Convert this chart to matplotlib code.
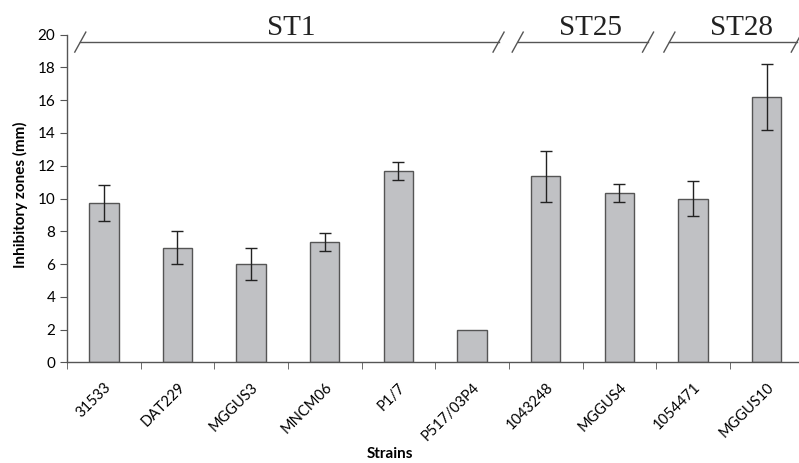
import matplotlib
matplotlib.use("Agg")
from matplotlib import pyplot as plt
import numpy as np

strains = ["31533", "DAT229", "MGGUS3", "MNCM06", "P1/7",
           "P517/03P4", "1043248", "MGGUS4", "1054471", "MGGUS10"]
zones = [9.7, 7.0, 6.0, 7.35, 11.7, 2.0, 11.35, 10.35, 10.0, 16.2]
errors = [1.1, 1.0, 1.0, 0.55, 0.55, 0.0, 1.55, 0.55, 1.05, 2.0]

groups = ["ST1", "ST25", "ST28"]
group_spans = [(-0.32, 5.36), (5.62, 7.39), (7.68, 9.41)]
group_label_x = [2.54, 6.61, 8.66]

plt.rcParams['font.family'] = ['Lato', 'DejaVu Sans']

fig = plt.figure(figsize=(7.99, 4.63), dpi=100)
ax = fig.add_axes([0.0839, 0.2175, 0.9161, 0.7075])

x = np.arange(len(strains))
ax.bar(x, zones, width=0.4, color="#c0c1c4", edgecolor="#555555", linewidth=1.0)
has_err = np.array(errors) > 0
ax.errorbar(x[has_err], np.array(zones)[has_err], yerr=np.array(errors)[has_err],
            fmt="none", ecolor="#222222", elinewidth=1.0, capsize=4, capthick=1.0)

ax.set_xlim(-0.5, 9.44)
ax.set_ylim(0, 20)
ax.set_yticks(range(0, 21, 2))
ax.set_xticks(x)
ax.set_xticklabels(strains, rotation=45, ha="right", rotation_mode="anchor", fontsize=10.5)
ax.set_xticks(np.arange(-0.5, 9.0, 1.0), minor=True)
ax.tick_params(axis="x", which="major", length=0, pad=13)
ax.tick_params(axis="x", which="minor", length=5, direction="out", color="#555555")
ax.tick_params(axis="y", length=5, direction="out", color="#555555", labelsize=11)

for s in ["top", "right"]:
    ax.spines[s].set_visible(False)
for s in ["left", "bottom"]:
    ax.spines[s].set_color("#555555")
    ax.spines[s].set_linewidth(1.0)

ax.set_ylabel("Inhibitory zones (mm)", fontsize=11, fontweight="bold")
ax.yaxis.set_label_coords(-0.053, 0.51)
ax.set_xlabel("Strains", fontsize=11, fontweight="bold")
ax.xaxis.set_label_coords(0.441, -0.258)

# strain type brackets with break slashes
ly = 19.55
dx, dy = 0.075, 0.61
for name, (a, b), tx in zip(groups, group_spans, group_label_x):
    ax.plot([a, b], [ly, ly], color="#555555", lw=1.0, clip_on=False)
    for e in (a, b):
        ax.plot([e - dx, e + dx], [ly - dy, ly + dy], color="#555555", lw=1.0, clip_on=False)
    ax.text(tx, 20.0, name, ha="center", va="baseline", fontsize=21,
            family="Liberation Serif", color="#222222")

fig.savefig("out.png", dpi=100)
